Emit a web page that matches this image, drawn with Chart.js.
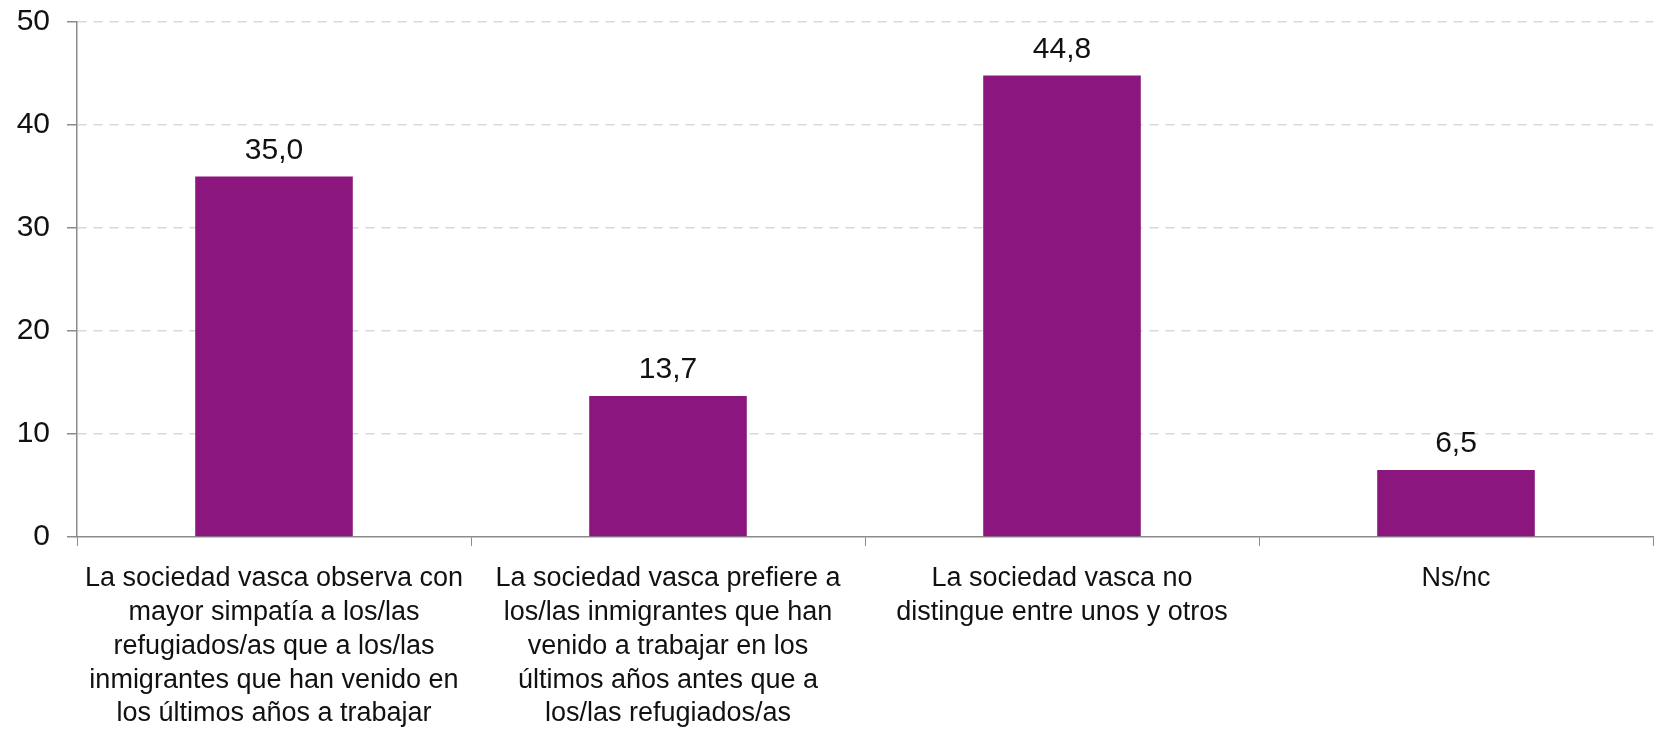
<!DOCTYPE html>
<html>
<head>
<meta charset="utf-8">
<script src="https://cdn.jsdelivr.net/npm/chart.js@4"></script>
<style>
  html, body { margin: 0; padding: 0; background: #fff; }
  #wrap { width: 1654px; height: 730px; }
</style>
</head>
<body>
<div id="wrap"><canvas id="opinionChart" width="1654" height="730"></canvas></div>
<script>
// Data
const categories = [
    ['La sociedad vasca observa con', 'mayor simpatía a los/las', 'refugiados/as que a los/las', 'inmigrantes que han venido en', 'los últimos años a trabajar'],
    ['La sociedad vasca prefiere a', 'los/las inmigrantes que han', 'venido a trabajar en los', 'últimos años antes que a', 'los/las refugiados/as'],
    ['La sociedad vasca no', 'distingue entre unos y otros'],
    ['Ns/nc']
];
const percentages = [35.0, 13.7, 44.8, 6.5];
const yTicks = [0, 10, 20, 30, 40, 50];

const fontFamily = "'Liberation Sans', Arial, sans-serif";

// Value labels above bars (comma decimals)
const valueLabels = {
    id: 'valueLabels',
    afterDatasetsDraw(chart) {
        const ctx = chart.ctx;
        const meta = chart.getDatasetMeta(0);
        ctx.save();
        ctx.font = '30px ' + fontFamily;
        ctx.fillStyle = '#111';
        ctx.textAlign = 'center';
        ctx.textBaseline = 'alphabetic';
        meta.data.forEach((bar, i) => {
            const txt = percentages[i].toFixed(1).replace('.', ',');
            ctx.fillText(txt, bar.x, bar.y - 18);
        });
        ctx.restore();
    }
};

const ctx = document.getElementById('opinionChart').getContext('2d');
const opinionChart = new Chart(ctx, {
    type: 'bar',
    data: {
        labels: categories,
        datasets: [{
            data: percentages,
            backgroundColor: '#8b177e',
            barPercentage: 0.4,
            categoryPercentage: 1.0
        }]
    },
    options: {
        responsive: false,
        animation: false,
        layout: { padding: { top: 22, right: 1, left: 0, bottom: 0 } },
        scales: {
            x: {
                offset: true,
                grid: {
                    offset: true,
                    drawOnChartArea: false,
                    color: '#8c8c8c',
                    tickLength: 9
                },
                border: { color: '#8c8c8c', width: 1.5 },
                ticks: {
                    color: '#111',
                    font: { family: fontFamily, size: 27, lineHeight: 1.25 },
                    padding: 16,
                    maxRotation: 0,
                    autoSkip: false
                },
                afterFit(scale) { scale.height = 193; }
            },
            y: {
                min: 0,
                max: 50,
                afterBuildTicks(scale) {
                    scale.ticks = yTicks.map(v => ({ value: v }));
                },
                grid: {
                    color: c => c.tick && c.tick.value === 0 ? 'rgba(0,0,0,0)' : '#d9d9d9',
                    tickColor: '#8c8c8c',
                    tickLength: 10,
                    tickBorderDash: [],
                    lineWidth: 1.5
                },
                border: { color: '#8c8c8c', width: 1.5, dash: [9, 7] },
                ticks: {
                    color: '#111',
                    font: { family: fontFamily, size: 30 },
                    padding: 17
                },
                afterFit(scale) {
                    scale.width = 77;
                    scale.paddingTop = 0;
                }
            }
        },
        plugins: {
            legend: { display: false },
            tooltip: { enabled: false }
        }
    },
    plugins: [valueLabels]
});
</script>
</body>
</html>
